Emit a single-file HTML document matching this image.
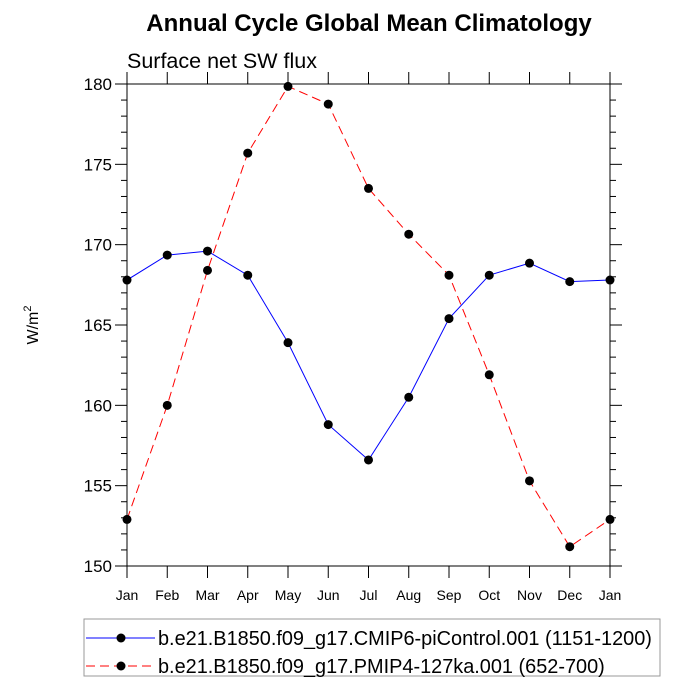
<!DOCTYPE html>
<html><head><meta charset="utf-8"><style>
html,body{margin:0;padding:0;background:#fff;}
svg{display:block;font-family:"Liberation Sans",sans-serif;}
</style></head><body>
<svg id="chart" width="700" height="700" viewBox="0 0 700 700">
<text x="369" y="31" text-anchor="middle" font-size="24" font-weight="bold">Annual Cycle Global Mean Climatology</text>
<text x="127" y="68" font-size="21.5">Surface net SW flux</text>
<text transform="translate(38,325) rotate(-90)" text-anchor="middle" font-size="16">W/m<tspan dy="-7" font-size="11">2</tspan></text>
<g id="axes"></g>
<g id="series"></g>
<g>
<rect x="84" y="619" width="576" height="57" fill="#fff" stroke="#999" stroke-width="1"/>
<g>
<line x1="86" y1="638" x2="155" y2="638" stroke="#0000ff" stroke-width="1"/>
<circle cx="121" cy="638" r="4.5" fill="#000"/>
<text x="158" y="645" font-size="19.9">b.e21.B1850.f09_g17.CMIP6-piControl.001 (1151-1200)</text>
</g>
<g>
<line x1="86" y1="666" x2="155" y2="666" stroke="#ff0000" stroke-width="1" stroke-dasharray="9,5"/>
<circle cx="121" cy="666" r="4.5" fill="#000"/>
<text x="158" y="673" font-size="19.9">b.e21.B1850.f09_g17.PMIP4-127ka.001 (652-700)</text>
</g>
</g>
</svg>
<script>
const months = ["Jan","Feb","Mar","Apr","May","Jun","Jul","Aug","Sep","Oct","Nov","Dec","Jan"];
const piControl = [167.8,169.35,169.6,168.1,163.9,158.8,156.6,160.5,165.4,168.1,168.85,167.7,167.8];
const pmip127ka = [152.9,160.0,168.4,175.7,179.85,178.75,173.5,170.65,168.1,161.9,155.3,151.2,152.9];
const yTicks = [150,155,160,165,170,175,180];

const L=127,R=610,T=84,B=566,yMin=150,yMax=180;
const NS="http://www.w3.org/2000/svg";
function xs(i){return L+(R-L)*i/(months.length-1);}
function ys(v){return B-(B-T)*(v-yMin)/(yMax-yMin);}
function mk(tag,attrs,parent){const e=document.createElementNS(NS,tag);for(const k in attrs)e.setAttribute(k,attrs[k]);parent.appendChild(e);return e;}
const axes=document.getElementById('axes');
const frame=mk('rect',{x:L,y:T,width:R-L,height:B-T,fill:'none',stroke:'#000','stroke-width':1},axes);


for(let v=yMin;v<=yMax;v++){
  const y=ys(v);const major=(v%5===0);const len=major?12:6;
  const t1=mk('line',{x1:L-len,y1:y,x2:L,y2:y,stroke:'#000','stroke-width':1},axes);
  
  
  const t2=mk('line',{x1:R,y1:y,x2:R+len,y2:y,stroke:'#000','stroke-width':1},axes);
  
  
}
yTicks.forEach(v=>{
  const t=mk('text',{x:L-15,y:ys(v)+6,'text-anchor':'end','font-size':17},axes);
  t.textContent=v;
  
  
});
months.forEach((m,i)=>{
  const x=xs(i);
  const a=mk('line',{x1:x,y1:B,x2:x,y2:B+12,stroke:'#000','stroke-width':1},axes);
  
  
  const b=mk('line',{x1:x,y1:T-12,x2:x,y2:T,stroke:'#000','stroke-width':1},axes);
  
  
  const t=mk('text',{x:x,y:B+34,'text-anchor':'middle','font-size':14},axes);
  t.textContent=m;
  
  
});
const ser=document.getElementById('series');
function draw(vals,color,dash,name){
  const g=mk('g',{},ser);
  
  
  const pts=vals.map((v,i)=>xs(i)+','+ys(v)).join(' ');
  const pl=mk('polyline',{points:pts,fill:'none',stroke:color,'stroke-width':1,'stroke-dasharray':dash},g);
  
  
  vals.forEach((v,i)=>{
    const c=mk('circle',{cx:xs(i),cy:ys(v),r:4.5,fill:'#000'},g);
    
    
  });
}
draw(pmip127ka,'#ff0000','9,5','series-127ka');
draw(piControl,'#0000ff','none','series-picontrol');
</script>
</body></html>
